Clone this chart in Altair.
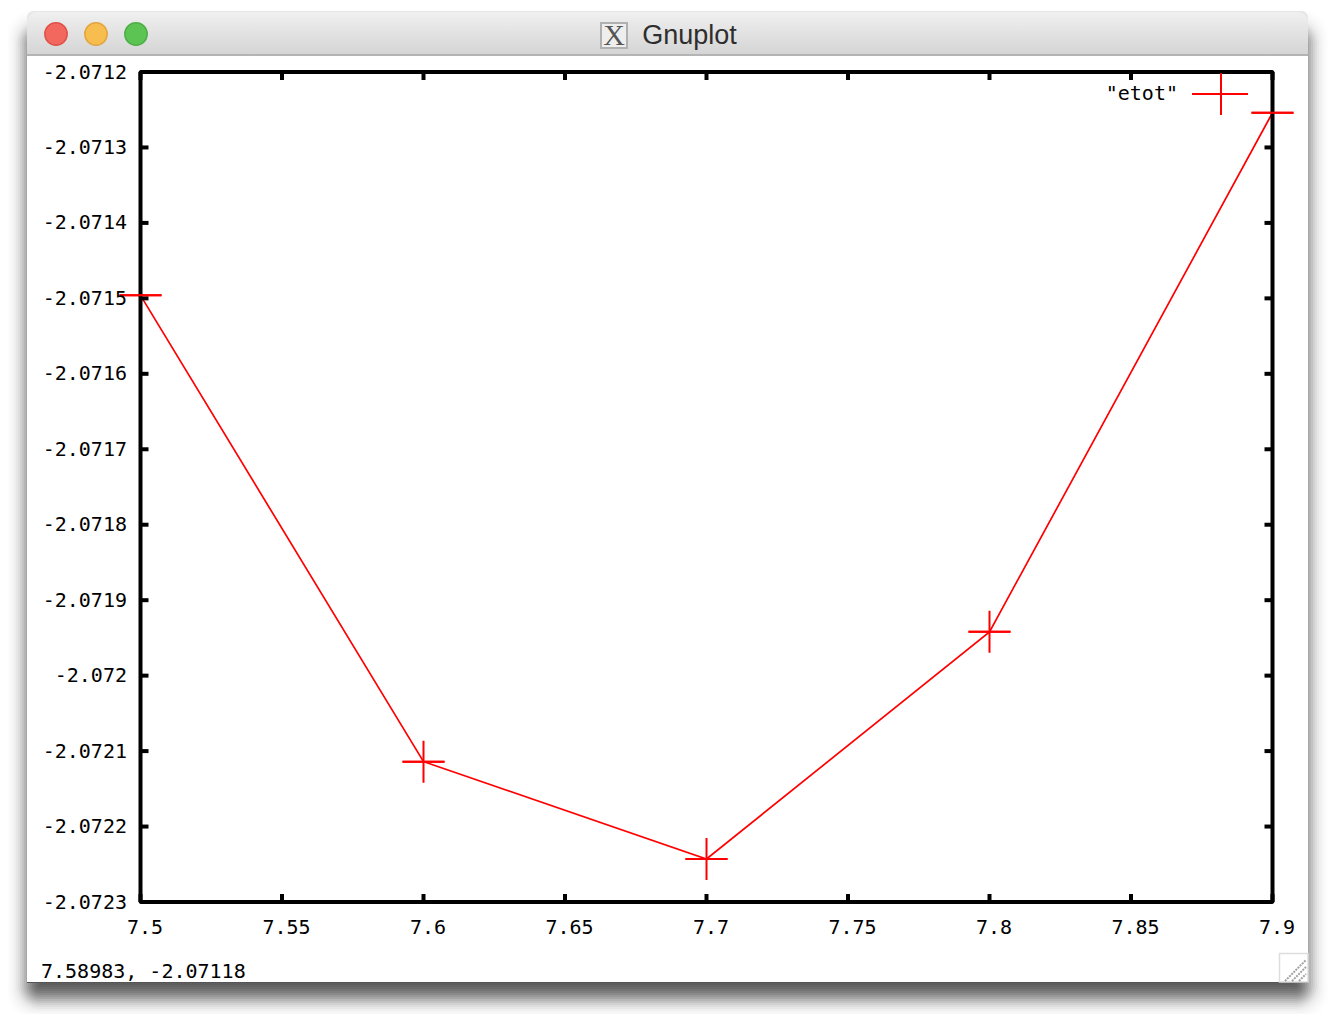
import math
import altair as alt
import pandas as pd

# Chart values
energy_x = [7.5, 7.6, 7.7, 7.8, 7.9]
energy_y = [-2.071496, -2.072114, -2.072243, -2.071942, -2.071254]
x_ticks = [7.5, 7.55, 7.6, 7.65, 7.7, 7.75, 7.8, 7.85, 7.9]
y_ticks = [-2.0712, -2.0713, -2.0714, -2.0715, -2.0716, -2.0717, -2.0718, -2.0719,
           -2.072, -2.0721, -2.0722, -2.0723]
series_label = '"etot"'
window_title = "Gnuplot"
status_text = "7.58983, -2.07118"

# Layout (page pixels)
X0, Y0 = 140.5, 72.0
W, H = 1132, 830
TICK = 8
MONO = "DejaVu Sans Mono"
FS = 20
RED = "#ff0000"


def px(v):
    return alt.value(v - X0)


def py(v):
    return alt.value(v - Y0)


def rect(x1, y1, x2, y2, **mark):
    return alt.Chart().mark_rect(**mark).encode(x=px(x1), x2=px(x2), y=py(y1), y2=py(y2))


def label(x, y, text, **mark):
    return alt.Chart().mark_text(**mark).encode(x=px(x), y=py(y), text=alt.value(text))


def seg(x1, y1, x2, y2, **mark):
    return alt.Chart().mark_rule(**mark).encode(x=px(x1), x2=px(x2), y=py(y1), y2=py(y2))


# Window chrome
WL, WT, WR, WB, BAR = 27, 12, 1308, 982, 55
shadow = []
for e in range(24, -25, -2):
    a = 0.085 * math.exp(-((e / 10) ** 2) / 2)
    shadow.append(rect(WL + 3 - e, WT + 22 - e, WR - 3 + e, WB + 13 + e,
                       color="#000000", opacity=a,
                       cornerRadius=max(2, min(24, 10 + e))))
chrome = shadow + [
    rect(WL, WT - 1, WR, WT + 12, color="#e6e6e6", cornerRadiusTopLeft=10, cornerRadiusTopRight=10),
    rect(WL, WB - 8, WR, WB + 1, color="#555555"),
    rect(WL, BAR, WR, WB, color="#ffffff"),
    rect(WL, WT, WR, BAR, cornerRadiusTopLeft=10, cornerRadiusTopRight=10,
         color=alt.Gradient(gradient="linear", x1=0, x2=0, y1=0, y2=1,
                            stops=[alt.GradientStop(color="#f0f0f0", offset=0),
                                   alt.GradientStop(color="#d4d4d4", offset=1)])),
    rect(WL, BAR - 1, WR, BAR + 1, color="#b4b4b4"),
    alt.Chart().mark_circle(size=500, color="#f2675e", stroke="#df5249", strokeWidth=1.5, opacity=1)
       .encode(x=px(56), y=py(34)),
    alt.Chart().mark_circle(size=500, color="#f7bd4f", stroke="#e2a63e", strokeWidth=1.5, opacity=1)
       .encode(x=px(96), y=py(34)),
    alt.Chart().mark_circle(size=500, color="#5cc452", stroke="#4eae45", strokeWidth=1.5, opacity=1)
       .encode(x=px(136), y=py(34)),
    rect(601, 23, 627, 48, color="#eeeeee", stroke="#b0b0b0", strokeWidth=2),
    label(614, 36, "X", font="Liberation Serif", fontSize=30, color="#555555",
          align="center", baseline="middle"),
    label(689.5, 35.5, window_title, font="Liberation Sans", fontSize=27, color="#2e2e2e",
          align="center", baseline="middle"),
    rect(1279.5, 953.5, 1308, 982, color="#ffffff", stroke="#dddddd", strokeWidth=1.5),
    seg(1285, 981, 1306, 960, color="#a0a0a0", strokeWidth=2, strokeDash=[2, 1]),
    seg(1292, 981, 1306, 967, color="#a0a0a0", strokeWidth=2, strokeDash=[2, 1]),
    seg(1299, 981, 1306, 974, color="#a0a0a0", strokeWidth=2, strokeDash=[2, 1]),
    label(41, 972, status_text, font=MONO, fontSize=FS, color="#000000",
          align="left", baseline="middle"),
]

# Data and scales
df = pd.DataFrame({"x": energy_x, "y": energy_y})
xt = pd.DataFrame({"x": x_ticks})
yt = pd.DataFrame({"y": y_ticks})

x_scale = alt.Scale(domain=[7.5, 7.9], nice=False, zero=False)
y_scale = alt.Scale(domain=[-2.0723, -2.0712], nice=False, zero=False)
axis_common = dict(title=None, domain=False, ticks=False, grid=False, zindex=1,
                   labelFont=MONO, labelFontSize=FS, labelColor="#000000",
                   labelOverlap=False, labelBound=False, labelFlush=False)
x_enc = alt.X("x:Q", scale=x_scale,
              axis=alt.Axis(values=x_ticks, format=".2~f", labelPadding=15, labelOffset=4,
                            labelAngle=0, **axis_common))
y_enc = alt.Y("y:Q", scale=y_scale,
              axis=alt.Axis(values=y_ticks, format=".4~f", labelPadding=14,
                            labelExpr="replace(datum.label, '\u2212', '-')",
                            labelBaseline="middle", **axis_common))

CROSS = "M-1,0L1,0M0,-1L0,1"
HBAR = "M-1,0L1,0"

line = alt.Chart(df).mark_line(color=RED, strokeWidth=1.7).encode(x=x_enc, y=y_enc)
points = alt.Chart(df).mark_point(shape=CROSS, filled=False, size=1764, color=RED,
                                  strokeWidth=2, opacity=1).encode(x="x:Q", y="y:Q")
hbars = alt.Chart(df).mark_point(shape=HBAR, filled=False, size=1764, color=RED,
                                 strokeWidth=2, opacity=1).encode(x="x:Q", y="y:Q")

frame = rect(X0, Y0, X0 + W, Y0 + H, fillOpacity=0, fill="#ffffff", stroke="#000000",
             strokeWidth=4, cornerRadius=1)

ticks = [
    alt.Chart(xt).mark_rule(color="#000000", strokeWidth=4)
       .encode(x="x:Q", y=alt.value(H), y2=alt.value(H - TICK)),
    alt.Chart(xt).mark_rule(color="#000000", strokeWidth=4)
       .encode(x="x:Q", y=alt.value(0), y2=alt.value(TICK)),
    alt.Chart(yt).mark_rule(color="#000000", strokeWidth=4)
       .encode(y="y:Q", x=alt.value(0), x2=alt.value(TICK)),
    alt.Chart(yt).mark_rule(color="#000000", strokeWidth=4)
       .encode(y="y:Q", x=alt.value(W), x2=alt.value(W - TICK)),
]

key = [
    label(1178, 94, series_label, font=MONO, fontSize=FS, color="#000000",
          align="right", baseline="middle"),
    seg(1192, 94, 1248, 94, color=RED, strokeWidth=2),
    seg(1221, 73, 1221, 115, color=RED, strokeWidth=2),
]

chart = alt.layer(*chrome, line, points, frame, *ticks, hbars, *key).properties(
    width=W, height=H,
    padding={"left": X0 - 8, "top": Y0 - 8, "right": 55.5, "bottom": 112},
    autosize=alt.AutoSizeParams(type="none", contains="content"),
    background="#ffffff",
).configure_view(stroke=None)

chart.save("out.html", embed_options={"renderer": "svg", "actions": False})
